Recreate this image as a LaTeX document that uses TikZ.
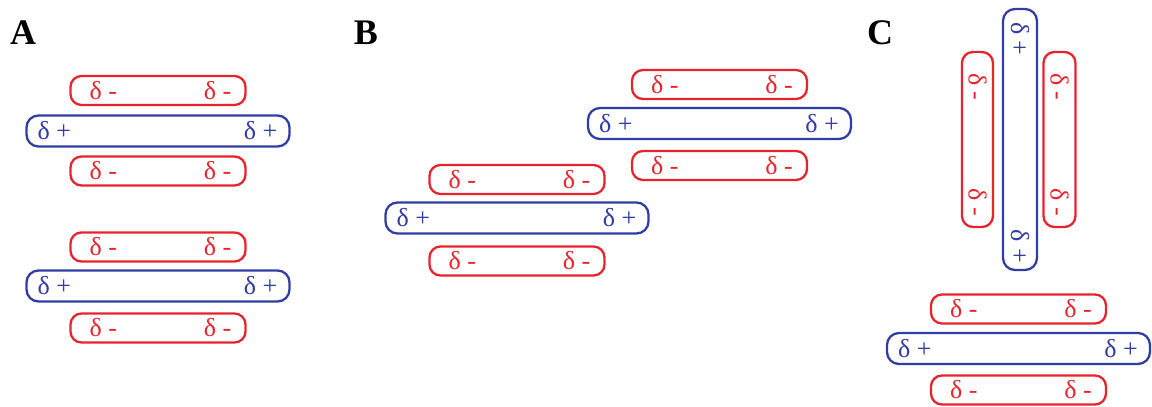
\documentclass[tikz,border=0pt]{standalone}
\usepackage{fontspec}
\setmainfont{Liberation Serif}
\definecolor{myred}{RGB}{230,36,44}
\definecolor{myblue}{RGB}{50,60,165}
\tikzset{
  x=1pt, y=-1pt,
  redbox/.style={draw=myred, line width=2.3pt, rounded corners=11pt, inner sep=0pt},
  bluebox/.style={draw=myblue, line width=2.3pt, rounded corners=12pt, inner sep=0pt},
  hred/.style={redbox, minimum width=175pt, minimum height=29pt},
  hblue/.style={bluebox, minimum width=263pt, minimum height=31pt},
  rtxt/.style={text=myred, font=\fontsize{26}{28}\selectfont, inner sep=0pt},
  btxt/.style={text=myblue, font=\fontsize{26}{28}\selectfont, inner sep=0pt},
  panel/.style={font=\fontsize{36}{38}\selectfont\bfseries, inner sep=0pt},
}
\newcommand\hgrp[5]{%
  \node[hred] (#1ra) at (#2,#3) {};
  \node[rtxt] (#1raL) at ([xshift=34pt]#1ra.west) {δ -};
  \node[rtxt] (#1raR) at ([xshift=-29pt]#1ra.east) {δ -};
  \node[hblue] (#1b) at (#2,#4) {};
  \node[btxt] (#1bL) at ([xshift=29pt]#1b.west) {δ +};
  \node[btxt] (#1bR) at ([xshift=-30pt]#1b.east) {δ +};
  \node[hred] (#1rb) at (#2,#5) {};
  \node[rtxt] (#1rbL) at ([xshift=34pt]#1rb.west) {δ -};
  \node[rtxt] (#1rbR) at ([xshift=-29pt]#1rb.east) {δ -};
}
\begin{document}
\begin{tikzpicture}
\useasboundingbox (0,0) rectangle (1152,407);
% panel labels
\node[panel] (lA) at (23,33) {A};
\node[panel] (lB) at (366,33) {B};
\node[panel] (lC) at (880,33) {C};
% panel A
\hgrp{aone}{158}{90.5}{131}{171}
\hgrp{atwo}{158}{247}{286}{328}
% panel B
\hgrp{bup}{719.5}{84.5}{123.5}{165.5}
\hgrp{blow}{517}{179.5}{218}{261}
% panel C horizontal
\hgrp{chor}{1018.5}{309}{348.5}{390}
% panel C vertical
\node[bluebox, minimum width=34pt, minimum height=261pt] (cvb) at (1020,139.5) {};
\node[btxt, rotate=-90] (cvbT) at ([yshift=-31pt]cvb.north) {δ +};
\node[btxt, rotate=-90] (cvbB) at ([yshift=25pt]cvb.south) {δ +};
\node[redbox, minimum width=31pt, minimum height=175pt] (cvl) at (977.5,139.5) {};
\node[rtxt, rotate=-90] (cvlT) at ([yshift=-36pt]cvl.north) {δ -};
\node[rtxt, rotate=-90] (cvlB) at ([yshift=26pt]cvl.south) {δ -};
\node[redbox, minimum width=32pt, minimum height=175pt] (cvr) at (1059.5,139.5) {};
\node[rtxt, rotate=-90] (cvrT) at ([yshift=-36pt]cvr.north) {δ -};
\node[rtxt, rotate=-90] (cvrB) at ([yshift=26pt]cvr.south) {δ -};
\end{tikzpicture}
\end{document}
